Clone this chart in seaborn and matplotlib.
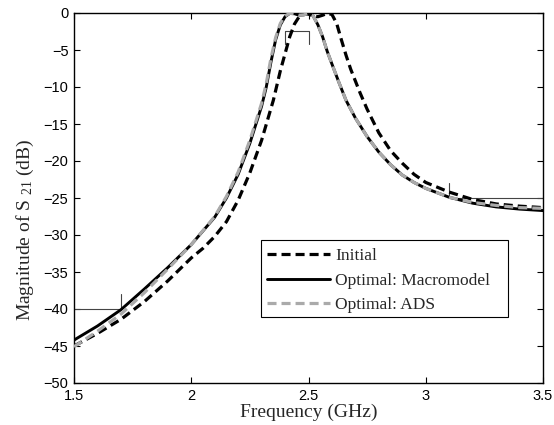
import numpy as np
import pandas as pd
import matplotlib
matplotlib.use("Agg")
import matplotlib.pyplot as plt
from matplotlib.patches import Rectangle
import seaborn as sns

# ---------------- data ----------------
f_init = [1.5, 1.6, 1.7, 1.8, 1.9, 2.0, 2.05, 2.1, 2.15, 2.2, 2.25, 2.3, 2.35,
          2.38, 2.40, 2.42, 2.44, 2.46, 2.48, 2.50, 2.52, 2.54, 2.56, 2.58,
          2.60, 2.62, 2.64, 2.66, 2.68, 2.70, 2.72, 2.75, 2.80, 2.85, 2.90,
          2.95, 3.0, 3.1, 3.2, 3.3, 3.4, 3.5]
s_init = [-45.0, -43.3, -41.4, -39.0, -36.2, -33.1, -31.8, -30.2, -28.2, -25.3,
          -21.6, -17.2, -11.8, -7.8, -5.5, -3.2, -1.5, -0.5, -0.1, -0.15, -0.4,
          -0.5, -0.3, -0.05, -0.2, -1.4, -3.6, -5.7, -7.6, -9.2, -10.8, -13.0,
          -16.2, -18.6, -20.3, -21.8, -22.9, -24.2, -25.2, -25.8, -26.1, -26.3]

f_macro = [1.5, 1.6, 1.7, 1.8, 1.9, 2.0, 2.1, 2.15, 2.2, 2.25, 2.3, 2.32, 2.34,
           2.36, 2.38, 2.40, 2.42, 2.44, 2.46, 2.48, 2.50, 2.52, 2.54, 2.56,
           2.58, 2.60, 2.63, 2.66, 2.70, 2.75, 2.80, 2.85, 2.90, 2.95, 3.0,
           3.1, 3.2, 3.3, 3.4, 3.5]
s_macro = [-44.2, -42.3, -40.1, -37.3, -34.4, -31.3, -27.6, -25.0, -21.8, -17.6,
           -12.6, -10.0, -6.6, -3.6, -1.6, -0.5, -0.05, -0.1, -0.3, -0.25,
           -0.05, -0.4, -1.6, -3.2, -5.2, -6.9, -9.4, -11.8, -14.2, -16.7,
           -18.8, -20.5, -21.9, -22.9, -23.7, -24.9, -25.7, -26.2, -26.5, -26.7]

f_ads = [1.5, 1.6, 1.7, 1.8, 1.9, 2.0, 2.1, 2.15, 2.2, 2.25, 2.3, 2.32, 2.34,
         2.36, 2.38, 2.40, 2.42, 2.44, 2.46, 2.48, 2.50, 2.52, 2.54, 2.56,
         2.58, 2.60, 2.63, 2.66, 2.70, 2.75, 2.80, 2.85, 2.90, 2.95, 3.0,
         3.1, 3.2, 3.3, 3.4, 3.5]
s_ads = [-45.1, -43.0, -40.7, -37.8, -34.6, -31.3, -27.5, -24.8, -21.5, -17.2,
         -12.2, -9.5, -6.1, -3.3, -1.4, -0.4, -0.05, -0.1, -0.3, -0.25,
         -0.05, -0.4, -1.6, -3.2, -5.2, -6.9, -9.4, -11.8, -14.2, -16.7,
         -18.8, -20.5, -21.9, -22.9, -23.7, -24.9, -25.6, -26.0, -26.3, -26.4]

labels = ["Initial", "Optimal: Macromodel", "Optimal: ADS"]

# specification masks
spec_low_x = [1.5, 1.7, 1.7]
spec_low_y = [-40, -40, -38]
spec_pass_x = [2.4, 2.4, 2.5, 2.5]
spec_pass_y = [-4.2, -2.4, -2.4, -4.2]
spec_high_x = [3.1, 3.1, 3.5]
spec_high_y = [-23, -25, -25]

x_ticks = [1.5, 2, 2.5, 3, 3.5]
x_ticklabels = ["1.5", "2", "2.5", "3", "3.5"]
y_ticks = [0, -5, -10, -15, -20, -25, -30, -35, -40, -45, -50]

# ---------------- style ----------------
sns.set_style("ticks")
plt.rcParams["font.family"] = ["Liberation Sans", "DejaVu Sans"]
plt.rcParams["lines.scale_dashes"] = False
plt.rcParams["mathtext.fontset"] = "custom"
plt.rcParams["mathtext.rm"] = "Liberation Serif"
plt.rcParams["mathtext.it"] = "Liberation Serif:italic"

fig = plt.figure(figsize=(5.54, 4.25), dpi=100)
ax = fig.add_axes([74 / 554, 1 - 383 / 425, 469 / 554, 370 / 425])

spec_kw = dict(color="#444444", lw=0.8, zorder=1)
ax.plot(spec_low_x, spec_low_y, **spec_kw)
ax.plot(spec_pass_x, spec_pass_y, **spec_kw)
ax.plot(spec_high_x, spec_high_y, **spec_kw)

sns.lineplot(x=f_init, y=s_init, ax=ax, color="black", lw=2.3,
             linestyle=(0, (6.5, 3.6)), label=labels[0], sort=False, zorder=3)
sns.lineplot(x=f_macro, y=s_macro, ax=ax, color="black", lw=2.1,
             linestyle="-", label=labels[1], sort=False, zorder=4)
sns.lineplot(x=f_ads, y=s_ads, ax=ax, color="#aaaaaa", lw=2.3,
             linestyle=(0, (6.5, 3.6)), label=labels[2], sort=False, zorder=5)

ax.set_xlim(1.5, 3.5)
ax.set_ylim(-50, 0)
ax.set_xticks(x_ticks)
ax.set_xticklabels(x_ticklabels)
ax.set_yticks(y_ticks)
ax.tick_params(direction="in", length=4, width=0.8, top=True, right=True,
               labelsize=10.5, pad=4, colors="black")
for sp in ax.spines.values():
    sp.set_linewidth(1.0)
    sp.set_color("black")
    sp.set_visible(True)

ax.set_xlabel("Frequency (GHz)", family="Liberation Serif", fontsize=14)
ax.xaxis.set_label_coords(0.5, -0.055)
ax.set_ylabel(r"Magnitude of S $_{\mathrm{21}}$ (dB)", family="Liberation Serif",
              fontsize=14)
ax.yaxis.set_label_coords(-0.082, 0.414)

# legend frame (MATLAB style, wider on the right)
ax.add_patch(Rectangle((0.399, 0.178), 0.925 - 0.399, 0.386 - 0.178,
                       transform=ax.transAxes, fill=True, facecolor="white",
                       edgecolor="black", lw=0.8, zorder=6))
leg = ax.legend(loc="upper left", bbox_to_anchor=(0.412, 0.365),
                prop={"family": "Liberation Serif", "size": 12.5},
                frameon=False, handlelength=3.6, handletextpad=0.3,
                labelspacing=0.48, borderpad=0, borderaxespad=0)
leg.set_zorder(7)

fig.savefig("out.png", dpi=100)
